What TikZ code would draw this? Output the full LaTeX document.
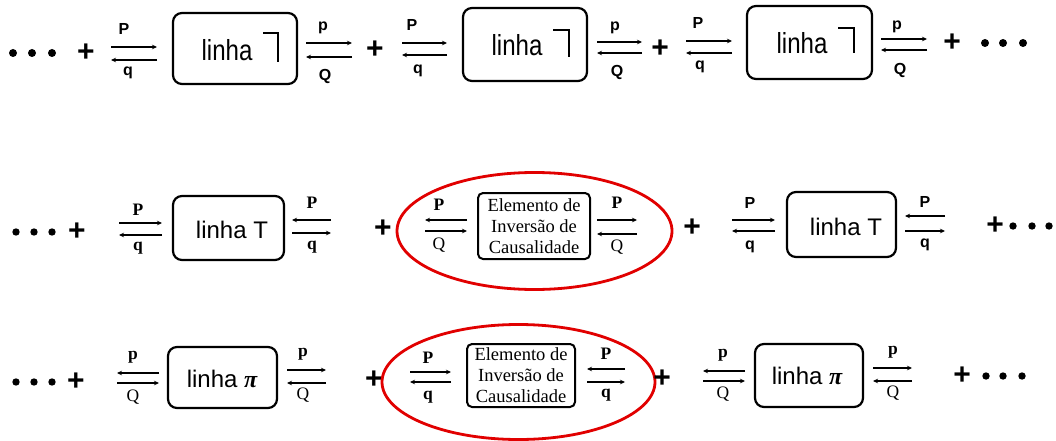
\documentclass[tikz,border=0pt]{standalone}
\usepackage{fontspec}
\setmainfont{Liberation Serif}
\newfontfamily\arialfont{Liberation Sans}
\newfontfamily\arialnarrow[FakeStretch=0.83]{Liberation Sans}
\usetikzlibrary{arrows.meta}
\definecolor{ellred}{RGB}{225,0,0}

% top arrow points right, bottom arrow points left
\newcommand\pairRL[5]{%
  \coordinate (#1tl) at (#2,#4); \coordinate (#1tr) at (#3,#4);
  \coordinate (#1bl) at (#2,#5); \coordinate (#1br) at (#3,#5);
  \draw[arr] (#1tl) -- (#1tr); \draw[arr] (#1br) -- (#1bl);}
% top arrow points left, bottom arrow points right
\newcommand\pairLR[5]{%
  \coordinate (#1tl) at (#2,#4); \coordinate (#1tr) at (#3,#4);
  \coordinate (#1bl) at (#2,#5); \coordinate (#1br) at (#3,#5);
  \draw[arr] (#1tr) -- (#1tl); \draw[arr] (#1bl) -- (#1br);}

\tikzset{
  arr/.style={line width=1.1pt,-{Stealth[length=5pt,width=4.5pt]}},
  linebox/.style 2 args={draw,line width=2.2pt,rounded corners=9pt,
     minimum width=#1,minimum height=#2,inner sep=0pt},
  elbox/.style 2 args={draw,line width=2pt,rounded corners=5pt,
     minimum width=#1,minimum height=#2,inner sep=0pt,align=center,
     font=\fontsize{18.5}{21}\selectfont},
  hookline/.style={line width=2.6pt},
  redring/.style={draw=ellred,line width=2.8pt},
  plus/.style={font=\arialfont\bfseries\fontsize{30}{30}\selectfont,inner sep=0pt},
  linhaA/.style={font=\arialnarrow\fontsize{29}{32}\selectfont,anchor=base,inner sep=0pt},
  linhaB/.style={font=\arialfont\fontsize{24}{28}\selectfont,anchor=base,inner sep=0pt},
  lsans/.style={font=\arialfont\bfseries\fontsize{16}{18}\selectfont,inner sep=0pt},
  lserb/.style={font=\bfseries\fontsize{17.5}{19}\selectfont,inner sep=0pt},
  lser/.style={font=\fontsize{17.5}{19}\selectfont,inner sep=0pt},
  dot/.style={fill=black},
}

\begin{document}
\begin{tikzpicture}[x=1pt,y=-1pt]
\useasboundingbox (0,0) rectangle (1056,441);

%%%%%%%%%%%%%%%% Row 1
\foreach \x in {13,32,52}{\fill[dot] (\x,53) circle[radius=4pt];}
\node[plus] (r1p1) at (86,53) {+};
\pairRL{a}{111}{157}{47}{60}
\node[lsans] (aP) at (124,29) {P};
\node[lsans] (aq) at (128,73) {q};
\node[linebox={124pt}{71pt}] (b1) at (235,48.5) {};
\node[linhaA] (t1) at (227,61) {linha};
\draw[hookline] (263,33) -- (278,33) -- (278,62);
\pairRL{b}{306}{352}{43}{57}
\node[lsans] (bp) at (323,28) {p};
\node[lsans] (bQ) at (325,76) {Q};

\node[plus] (r1p2) at (375,50) {+};
\pairRL{c}{402}{447}{43}{55}
\node[lsans] (cP) at (412,25) {P};
\node[lsans] (cq) at (418,71) {q};
\node[linebox={124pt}{73pt}] (b2) at (525,44.5) {};
\node[linhaA] (t2) at (517,56) {linha};
\draw[hookline] (553,30) -- (569,30) -- (569,57);
\pairRL{d}{597}{642}{42}{53}
\node[lsans] (dp) at (615,28) {p};
\node[lsans] (dQ) at (617,72) {Q};

\node[plus] (r1p3) at (660,49) {+};
\pairRL{e}{686}{732}{41}{53}
\node[lsans] (eP) at (698,23) {P};
\node[lsans] (eq) at (700,67) {q};
\node[linebox={125pt}{73pt}] (b3) at (809.5,42.5) {};
\node[linhaA] (t3) at (802,54) {linha};
\draw[hookline] (838,28) -- (854,28) -- (854,53);
\pairRL{f}{881}{927}{39}{50}
\node[lsans] (fp) at (897,27) {p};
\node[lsans] (fQ) at (900,70) {Q};
\node[plus] (r1p4) at (952,43) {+};
\foreach \x in {985,1003,1023}{\fill[dot] (\x,43) circle[radius=4pt];}

%%%%%%%%%%%%%%%% Row 2
\foreach \x in {16,34,52}{\fill[dot] (\x,232) circle[radius=3.7pt];}
\node[plus] (r2p1) at (77,232) {+};
\pairRL{g}{119}{162}{223}{235}
\node[lserb] (gP) at (138,210) {P};
\node[lserb] (gq) at (138,248) {q};
\node[linebox={111pt}{64pt}] (b4) at (228.5,228) {};
\node[linhaB] (t4) at (232,238) {linha T};
\pairLR{h}{292}{331}{220}{233}
\node[lserb] (hP) at (312,203) {P};
\node[lserb] (hq) at (312,247) {q};

\node[plus] (r2p2) at (383,229) {+};
\draw[redring] (534.5,231) ellipse [x radius=137.5pt, y radius=58.5pt];
\pairLR{i}{425}{467}{220}{231}
\node[lserb] (iP) at (439,205) {P};
\node[lser] (iQ) at (439,245) {Q};
\node[elbox={112pt}{66pt}] (e1) at (534,226) {Elemento de\\Inversão de\\Causalidade};
\pairRL{j}{597}{637}{220}{234}
\node[lserb] (jP) at (617,203) {P};
\node[lser] (jQ) at (617,247) {Q};
\node[plus] (r2p3) at (692,228) {+};

\pairRL{k}{732}{775}{220}{231}
\node[lsans] (kP) at (750,203) {P};
\node[lsans] (kq) at (750,247) {q};
\node[linebox={109pt}{65pt}] (b5) at (841.5,224.5) {};
\node[linhaB] (t5) at (846,235) {linha T};
\pairLR{l}{905}{945}{216}{231}
\node[lsans] (lP) at (925,202) {P};
\node[lsans] (lq) at (925,245) {q};
\node[plus] (r2p4) at (995,226) {+};
\foreach \x in {1013,1032,1049}{\fill[dot] (\x,226) circle[radius=3.7pt];}

%%%%%%%%%%%%%%%% Row 3
\foreach \x in {16,34,52}{\fill[dot] (\x,382) circle[radius=3.7pt];}
\node[plus] (r3p1) at (76,382) {+};
\pairLR{m}{117}{159}{373}{383}
\node[lserb] (mp) at (133,357) {p};
\node[lser] (mQ) at (133,397) {Q};
\node[linebox={109pt}{61pt}] (b6) at (222.5,377.5) {};
\node[linhaB] (t6) at (222,387) {linha {\rmfamily\itshape\bfseries π}};
\pairRL{n}{287}{326}{370}{383}
\node[lserb] (np) at (303,354) {p};
\node[lser] (nQ) at (303,395) {Q};

\node[plus] (r3p2) at (374,380) {+};
\draw[redring] (518.5,382) ellipse [x radius=136.5pt, y radius=57.5pt];
\pairRL{o}{410}{451}{372}{382}
\node[lserb] (oP) at (428,358) {P};
\node[lserb] (oq) at (428,397) {q};
\node[elbox={108pt}{63pt}] (e2) at (521,375.5) {Elemento de\\Inversão de\\Causalidade};
\pairLR{s}{587}{625}{369}{382}
\node[lserb] (sP) at (606,354) {P};
\node[lserb] (sq) at (606,395) {q};
\node[plus] (r3p3) at (662,379) {+};

\pairLR{r}{703}{745}{371}{381}
\node[lserb] (rp) at (723,355) {p};
\node[lser] (rQ) at (723,394) {Q};
\node[linebox={108pt}{63pt}] (b7) at (809,375.5) {};
\node[linhaB] (t7) at (807,384) {linha {\rmfamily\itshape\bfseries π}};
\pairRL{u}{873}{912}{368}{381}
\node[lserb] (up) at (893,352) {p};
\node[lser] (uQ) at (893,393) {Q};
\node[plus] (r3p4) at (962,376) {+};
\foreach \x in {986,1003,1022}{\fill[dot] (\x,376) circle[radius=3.7pt];}
\end{tikzpicture}
\end{document}
